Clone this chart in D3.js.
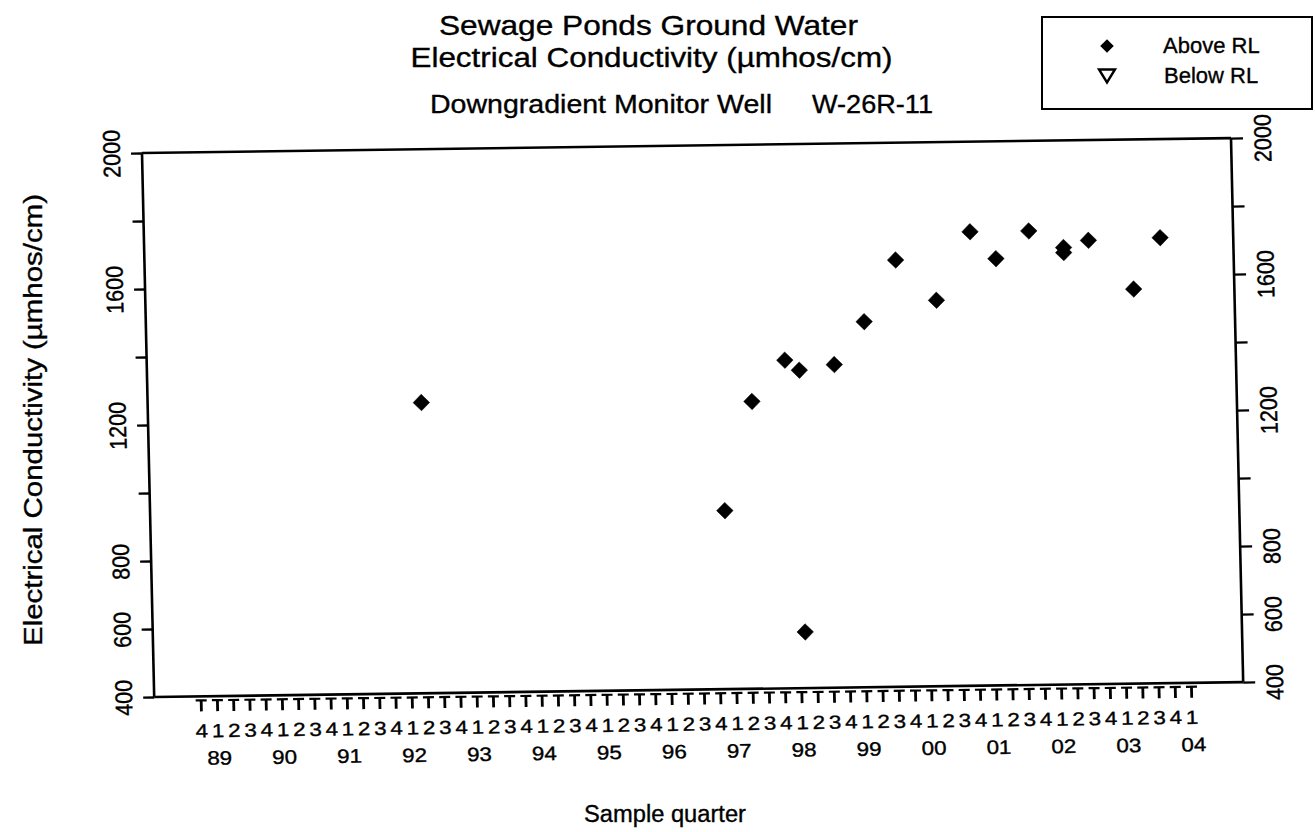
<!DOCTYPE html>
<html>
<head>
<meta charset="utf-8">
<script src="https://cdn.jsdelivr.net/npm/d3@7"></script>
<style>
  html, body { margin: 0; padding: 0; background: #fff; }
  svg { display: block; }
  text { font-family: "Liberation Sans", Arial, Helvetica, sans-serif; fill: #000; stroke: #000; stroke-width: 0.35px; }
</style>
</head>
<body>
<svg id="chart" width="1315" height="832"></svg>
<script>
// ---------------- data ----------------
const titleLines = ["Sewage Ponds Ground Water", "Electrical Conductivity (\u00b5mhos/cm)"];
const subtitleWell = "Downgradient Monitor Well";
const subtitleId = "W-26R-11";
const yAxisTitle = "Electrical Conductivity (\u00b5mhos/cm)";
const xAxisTitle = "Sample quarter";
const legendLabels = ["Above RL", "Below RL"];

// sample dates as decimal years, and measured EC values (all above reporting limit)
const sampleDates = [1992.25, 1996.885, 1997.34, 1997.86, 1998.08, 1998.08, 1998.62, 1999.095,
                     1999.60, 2000.215, 2000.755, 2001.145, 2001.66, 2002.19, 2002.19, 2002.575,
                     2003.255, 2003.68];
const ecValues    = [1255, 925, 1245, 1365, 1335, 565, 1350, 1475,
                     1655, 1535, 1735, 1655, 1735, 1685, 1670, 1705,
                     1560, 1710];
const rlStatus    = ["above","above","above","above","above","above","above","above",
                     "above","above","above","above","above","above","above","above",
                     "above","above"];

const yTickValues  = [400, 600, 800, 1000, 1200, 1400, 1600, 1800, 2000];
const yTickLabels  = [400, 600, 800, 1200, 1600, 2000];
const yearLabels   = ["89","90","91","92","93","94","95","96","97","98","99","00","01","02","03","04"];
const quarterStart = 1988.75;   // first tick: 4th quarter 1988
const quarterEnd   = 2004.0;    // last tick: 1st quarter 2004

// ---------------- layout ----------------
const svg = d3.select("#chart");
const FONT = '"Liberation Sans", Arial, Helvetica, sans-serif';
const plot = { left: 142, right: 1231, top: 153, bottom: 697 };

const x = d3.scaleLinear().domain([quarterStart, quarterEnd]).range([188.4, 1178.7]);
const y = d3.scaleLinear().domain([400, 2000]).range([plot.bottom, plot.top]);

// the scanned original is slightly skewed; reproduce via an affine transform
const g = svg.append("g").attr("transform", "matrix(1,-0.0137,0.0224,1,-3.43,1.95)");

// frame
const frame = g.append("g").attr("stroke", "#000").attr("stroke-width", 2.6).attr("fill", "none");
frame.append("line").attr("x1", plot.left).attr("x2", plot.right).attr("y1", plot.top).attr("y2", plot.top);
frame.append("line").attr("x1", plot.left).attr("x2", plot.right).attr("y1", plot.bottom).attr("y2", plot.bottom);
frame.append("line").attr("x1", plot.left).attr("x2", plot.left).attr("y1", plot.top).attr("y2", plot.bottom);
frame.append("line").attr("x1", plot.right).attr("x2", plot.right).attr("y1", plot.top).attr("y2", plot.bottom);

// left axis
const fmtY = d => yTickLabels.includes(d) ? String(d) : "";
const leftAxis = g.append("g").attr("transform", `translate(${plot.left},0)`)
  .call(d3.axisLeft(y).tickValues(yTickValues).tickSize(11).tickFormat(fmtY));
leftAxis.select(".domain").remove();
leftAxis.selectAll("line").attr("stroke", "#000").attr("stroke-width", 2.4);
leftAxis.selectAll("text")
  .attr("x", null).attr("dy", null)
  .attr("text-anchor", "middle")
  .attr("transform", "translate(-22,0) rotate(-90) scale(1,1.12)")
  .style("font-size", "21.5px").style("font-family", FONT);

// right axis
const rightAxis = g.append("g").attr("transform", `translate(${plot.right},0)`)
  .call(d3.axisRight(y).tickValues(yTickValues).tickSize(12).tickFormat(fmtY));
rightAxis.select(".domain").remove();
rightAxis.selectAll("line").attr("stroke", "#000").attr("stroke-width", 2.4);
rightAxis.selectAll("text")
  .attr("x", null).attr("dy", null)
  .attr("text-anchor", "middle")
  .attr("transform", "translate(40,0) rotate(-90) scale(1,1.12)")
  .style("font-size", "21.5px").style("font-family", FONT);

// bottom quarter axis
const quarterTicks = d3.range(0, Math.round((quarterEnd - quarterStart) * 4) + 1).map(i => quarterStart + i / 4);
const qLabel = v => String(((Math.round((v - Math.floor(v)) * 4)) % 4) + 1);
const bottomAxis = g.append("g").attr("transform", `translate(0,${plot.bottom + 4})`)
  .call(d3.axisBottom(x).tickValues(quarterTicks).tickSize(11).tickFormat(qLabel));
bottomAxis.select(".domain").remove();
bottomAxis.selectAll(".tick line").attr("stroke", "#000").attr("stroke-width", 2.8);
bottomAxis.selectAll(".tick").append("line")
  .attr("x1", -5.5).attr("x2", 5.5).attr("y1", 0).attr("y2", 0)
  .attr("stroke", "#000").attr("stroke-width", 2.2);
bottomAxis.selectAll(".tick text")
  .attr("y", 37).attr("dy", null)
  .attr("transform", "scale(1.18,1)")
  .style("font-size", "19px").style("font-family", FONT);

// year labels (centred below the first quarter of each year)
g.append("g").selectAll("text").data(yearLabels).join("text")
  .attr("transform", (d, i) => `translate(${x(1989 + i) + 1.5},${plot.bottom + 68.5}) scale(1.15,1)`)
  .attr("text-anchor", "middle")
  .style("font-size", "19.5px")
  .text(d => d);

// data points
const diamond = d3.symbol().type(d3.symbolSquare).size(136);
const triangle = d3.symbol().type(d3.symbolTriangle).size(80);
const pts = sampleDates.map((d, i) => ({ date: d, value: ecValues[i], status: rlStatus[i] }));
g.append("g").selectAll("path").data(pts).join("path")
  .attr("transform", d => `translate(${x(d.date)},${y(d.value)}) rotate(45)`)
  .attr("d", d => d.status === "above" ? diamond() : triangle())
  .attr("fill", d => d.status === "above" ? "#000" : "none")
  .attr("stroke", "#000").attr("stroke-width", d => d.status === "above" ? 0.5 : 2);

// ---------------- titles ----------------
svg.append("text").attr("x", 439).attr("y", 35)
  .attr("textLength", 419).attr("lengthAdjust", "spacingAndGlyphs")
  .style("font-size", "27.5px").text(titleLines[0]);
svg.append("text").attr("x", 410.5).attr("y", 67)
  .attr("textLength", 482).attr("lengthAdjust", "spacingAndGlyphs")
  .style("font-size", "27.5px").text(titleLines[1]);
svg.append("text").attr("x", 430).attr("y", 113)
  .attr("textLength", 342).attr("lengthAdjust", "spacingAndGlyphs")
  .style("font-size", "26px").text(subtitleWell);
svg.append("text").attr("x", 812).attr("y", 113)
  .attr("textLength", 121).attr("lengthAdjust", "spacingAndGlyphs")
  .style("font-size", "26px").text(subtitleId);

// axis titles
svg.append("text")
  .attr("transform", "translate(42,420) rotate(-90)")
  .attr("text-anchor", "middle")
  .attr("textLength", 452).attr("lengthAdjust", "spacingAndGlyphs")
  .style("font-size", "25px").text(yAxisTitle);
svg.append("text")
  .attr("x", 665).attr("y", 822)
  .attr("text-anchor", "middle")
  .attr("textLength", 162).attr("lengthAdjust", "spacingAndGlyphs")
  .style("font-size", "23.5px").text(xAxisTitle);

// ---------------- legend ----------------
const leg = svg.append("g");
leg.append("rect").attr("x", 1042).attr("y", 17).attr("width", 270).attr("height", 92)
  .attr("fill", "#fff").attr("stroke", "#000").attr("stroke-width", 2);
const legDiamond = d3.symbol().type(d3.symbolSquare).size(92);
leg.append("path").attr("d", legDiamond())
  .attr("transform", "translate(1107,46) rotate(45)").attr("fill", "#000");
// downward hollow triangle
const triH = 13, triW = 16;
leg.append("path")
  .attr("d", d3.line()([[-triW / 2, -triH / 2], [triW / 2, -triH / 2], [0, triH / 2]]) + "Z")
  .attr("transform", "translate(1107,76)")
  .attr("fill", "none").attr("stroke", "#000").attr("stroke-width", 2.4).attr("stroke-linejoin", "miter");
leg.append("text").attr("x", 1163).attr("y", 53).style("font-size", "22px").text(legendLabels[0]);
leg.append("text").attr("x", 1164).attr("y", 83).style("font-size", "22px").text(legendLabels[1]);
</script>
</body>
</html>
